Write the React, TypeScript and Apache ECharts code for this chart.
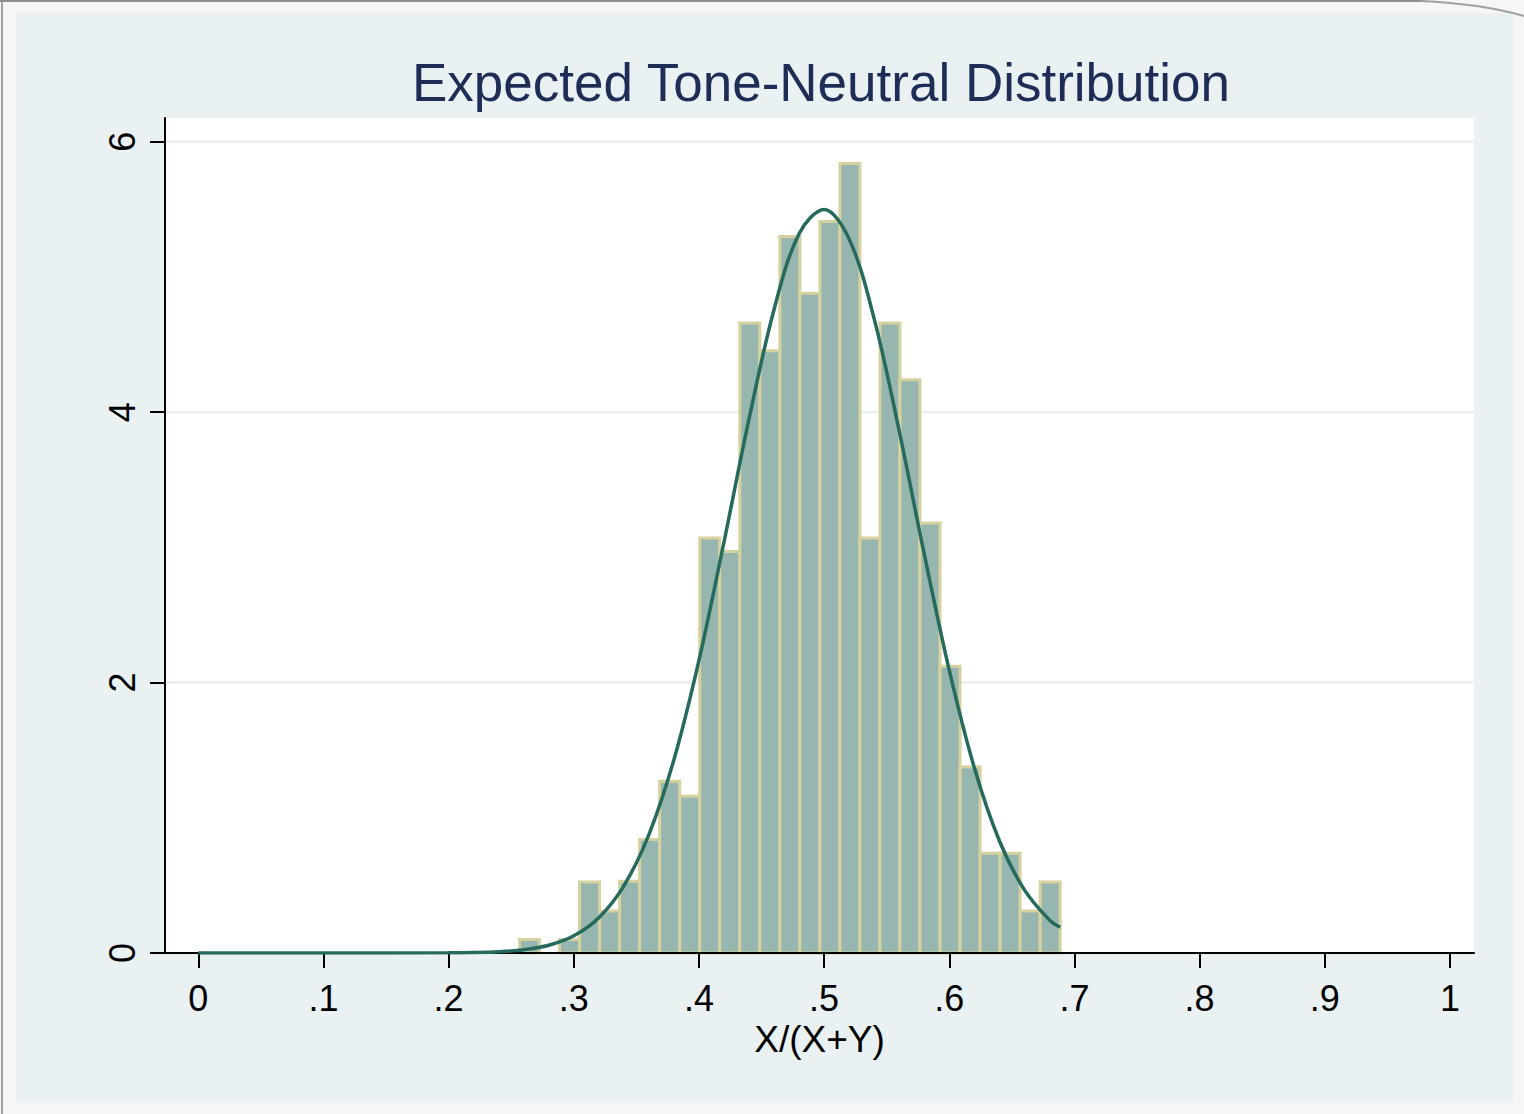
import React, { useEffect, useRef } from "react";
import * as echarts from "echarts";

const titleText = "Expected Tone-Neutral Distribution";
const xAxisTitle = "X/(X+Y)";

// histogram bins
const binStart = 0.2566;
const binWidth = 0.016;
const densities = [
  0.1, 0, 0.1, 0.525, 0.31, 0.53, 0.84, 1.27, 1.16, 3.07, 2.97, 4.66, 4.455, 5.3,
  4.88, 5.41, 5.84, 3.07, 4.66, 4.24, 3.18, 2.12, 1.376, 0.737, 0.737, 0.31, 0.525,
];

// normal density curve
const curveX = [
  0, 0.1, 0.2, 0.22, 0.24, 0.26, 0.28, 0.3, 0.32, 0.34, 0.36, 0.38, 0.4, 0.42, 0.44,
  0.46, 0.48, 0.5, 0.52, 0.54, 0.56, 0.58, 0.6, 0.62, 0.64, 0.66, 0.68, 0.6886,
];
const curveY = [
  0, 0, 0.001, 0.003, 0.009, 0.024, 0.057, 0.127, 0.261, 0.497, 0.876, 1.43, 2.165,
  3.04, 3.95, 4.76, 5.32, 5.5, 5.28, 4.69, 3.86, 2.95, 2.09, 1.37, 0.83, 0.467, 0.244,
  0.19,
];

const xTickValues = [0, 0.1, 0.2, 0.3, 0.4, 0.5, 0.6, 0.7, 0.8, 0.9, 1];
const xTickLabels = ["0", ".1", ".2", ".3", ".4", ".5", ".6", ".7", ".8", ".9", "1"];
const yTickValues = [0, 2, 4, 6];
const yTickLabels = ["0", "2", "4", "6"];
const yGridValues = [2, 4, 6];

const FONT = "'Liberation Sans', Arial, Helvetica, sans-serif";

export default function App() {
  const ref = useRef<HTMLDivElement>(null);

  useEffect(() => {
    if (!ref.current) return;
    const chart = echarts.init(ref.current, null, { renderer: "svg" });

    const bins = densities.map((d, i) => [
      binStart + i * binWidth,
      binStart + (i + 1) * binWidth,
      d,
    ]);
    const curve = curveX.map((x, i) => [x, curveY[i]]);

    const labelFor = (vals: number[], labels: string[]) => (v: number) => {
      const i = vals.findIndex((t) => Math.abs(t - v) < 1e-6);
      return i >= 0 ? labels[i] : "";
    };

    chart.setOption({
      animation: false,
      backgroundColor: "#f6f6f6",
      textStyle: { fontFamily: FONT },
      title: {
        text: titleText,
        left: 816,
        top: 51,
        textAlign: "center",
        textStyle: {
          fontSize: 53,
          fontWeight: "normal",
          color: "#1e2d56",
          fontFamily: FONT,
        },
      },
      grid: {
        left: 165,
        top: 118,
        width: 1309,
        height: 835,
        show: true,
        backgroundColor: "#ffffff",
        borderWidth: 0,
      },
      xAxis: {
        type: "value",
        min: -0.0266,
        max: 1.0192,
        z: 10,
        name: xAxisTitle,
        nameLocation: "middle",
        nameGap: 58,
        nameTextStyle: { fontSize: 37, color: "#000", fontFamily: FONT },
        axisLine: { show: true, onZero: false, lineStyle: { color: "#000", width: 2 } },
        axisTick: {
          show: true,
          length: 15,
          customValues: xTickValues,
          lineStyle: { color: "#000", width: 2 },
        },
        axisLabel: {
          customValues: xTickValues,
          formatter: labelFor(xTickValues, xTickLabels),
          fontSize: 36,
          color: "#000",
          margin: 27,
          fontFamily: FONT,
        },
        splitLine: { show: false },
      },
      yAxis: {
        type: "value",
        min: 0,
        max: 6.176,
        z: 10,
        axisLine: { show: true, onZero: false, lineStyle: { color: "#000", width: 2 } },
        axisTick: {
          show: true,
          length: 15,
          customValues: yTickValues,
          lineStyle: { color: "#000", width: 2 },
        },
        axisLabel: {
          customValues: yTickValues,
          formatter: labelFor(yTickValues, yTickLabels),
          rotate: 90,
          fontSize: 36,
          color: "#000",
          margin: 25,
          fontFamily: FONT,
        },
        splitLine: { show: false },
      },
      graphic: [
        {
          type: "rect",
          z: -10,
          shape: { x: 16, y: 13, width: 1497, height: 1090 },
          style: { fill: "#e9f1f3" },
        },
        {
          type: "line",
          z: -9,
          shape: { x1: 2, y1: 0, x2: 2, y2: 1114 },
          style: { stroke: "#a2a2a2", lineWidth: 2 },
        },
        {
          type: "line",
          z: -9,
          shape: { x1: 0, y1: 1, x2: 1425, y2: 1 },
          style: { stroke: "#8e8e8e", lineWidth: 2 },
        },
        {
          type: "bezierCurve",
          z: -9,
          shape: { x1: 1420, y1: 1, cpx1: 1465, cpy1: 3, cpx2: 1500, cpy2: 9, x2: 1524, y2: 16 },
          style: { stroke: "#a0a0a0", lineWidth: 2, fill: "none" },
        },
      ],
      series: [
        {
          type: "custom",
          z: 1,
          silent: true,
          data: yGridValues.map((v) => [v]),
          encode: { y: 0 },
          renderItem: (params: any, api: any) => {
            const cs = params.coordSys;
            const y = api.coord([0, api.value(0)])[1];
            return {
              type: "line",
              shape: { x1: cs.x, y1: y, x2: cs.x + cs.width, y2: y },
              style: { stroke: "#e7eff1", lineWidth: 2.5 },
            };
          },
        },
        {
          type: "custom",
          z: 2,
          data: bins,
          encode: { x: [0, 1], y: 2 },
          renderItem: (params: any, api: any) => {
            const x0 = api.value(0);
            const x1 = api.value(1);
            const h = api.value(2);
            if (!(h > 0)) return { type: "group", children: [] };
            const p0 = api.coord([x0, h]);
            const p1 = api.coord([x1, 0]);
            return {
              type: "rect",
              shape: { x: p0[0], y: p0[1], width: p1[0] - p0[0], height: p1[1] - p0[1] },
              style: { fill: "#98b6b0", stroke: "#d6d2a0", lineWidth: 3 },
            };
          },
        },
        {
          type: "line",
          z: 12,
          data: curve,
          showSymbol: false,
          smooth: 0.35,
          lineStyle: { color: "#266a5e", width: 3.5 },
        },
      ],
    });

    return () => chart.dispose();
  }, []);

  return (
    <div
      ref={ref}
      style={{ position: "fixed", left: 0, top: 0, width: 1524, height: 1114 }}
    />
  );
}
